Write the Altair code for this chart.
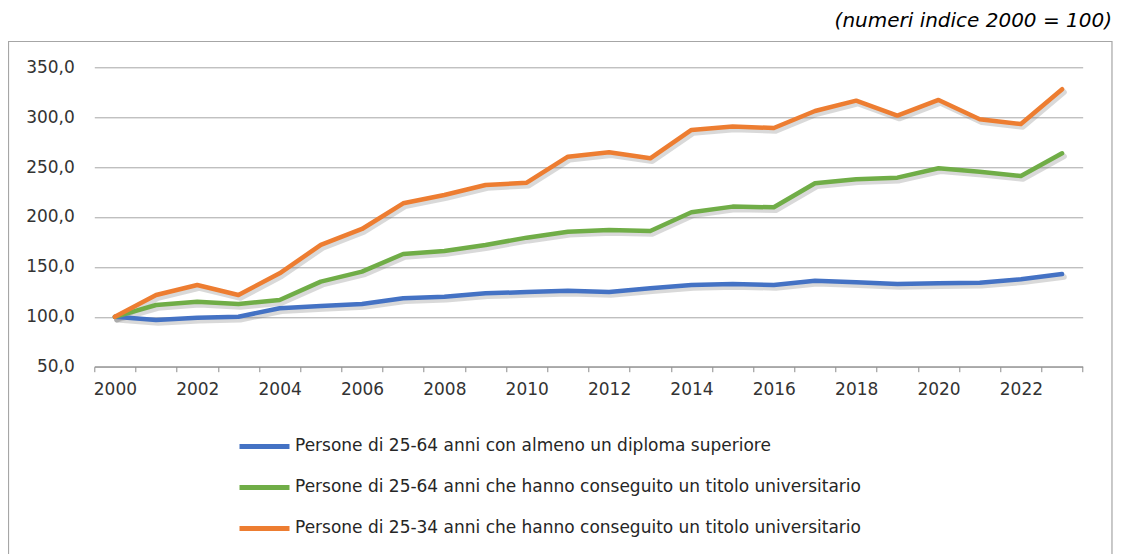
import altair as alt
import pandas as pd

years = list(range(2000, 2024))
blue = [100.0, 96.8, 99.1, 100.1, 108.5, 110.8, 112.8, 118.5, 120.1, 123.5, 124.8, 126.1,
        124.8, 128.5, 131.9, 132.9, 131.9, 136.2, 134.6, 132.9, 133.6, 134.2, 137.6, 142.9]
green = [100.0, 111.8, 115.1, 112.8, 116.8, 135.2, 145.2, 162.9, 165.9, 172.0, 179.3, 185.3,
         187.0, 186.0, 204.7, 210.4, 209.7, 233.8, 237.8, 239.4, 248.8, 245.4, 241.1, 263.8]
orange = [100.0, 121.8, 131.8, 121.8, 143.6, 172.0, 188.0, 213.7, 222.0, 232.0, 234.4, 260.4,
          264.8, 258.8, 287.2, 290.6, 289.2, 306.2, 316.6, 301.6, 317.3, 297.9, 293.2, 328.0]
series_names = [
    "Persone di 25-64 anni con almeno un diploma superiore",
    "Persone di 25-64 anni che hanno conseguito un titolo universitario",
    "Persone di 25-34 anni che hanno conseguito un titolo universitario",
]
colors = ["#4472C4", "#70AD47", "#ED7D31"]
y_ticks = [50, 100, 150, 200, 250, 300, 350]
title_text = "(numeri indice 2000 = 100)"

rows = []
for name, vals in zip(series_names, [blue, green, orange]):
    for yr, v in zip(years, vals):
        rows.append({"anno": yr, "valore": v, "serie": name})
df = pd.DataFrame(rows)

W, H = 988.4, 299.4
PAD_L, PAD_T = 86.3, 59.3
FONT = "DejaVu Sans"
tick_vals = [yr - 0.5 for yr in years] + [years[-1] + 0.5]

x_enc = alt.X(
    "anno:Q",
    scale=alt.Scale(domain=[years[0] - 0.5, years[-1] + 0.5], nice=False, zero=False),
    axis=alt.Axis(
        values=tick_vals,
        labelExpr="((datum.value + 0.5) % 2 == 0 && datum.value < 2023) ? '' + (datum.value + 0.5) : ''",
        labelOffset=W / len(years) / 2,
        labelFlush=False,
        labelOverlap=False,
        labelBound=False,
        grid=False,
        tickSize=5,
        tickColor="#8c8c8c",
        domainColor="#8c8c8c",
        labelFont=FONT,
        labelFontSize=17,
        labelColor="#333333",
        labelPadding=10,
        title=None,
    ),
)
y_enc = alt.Y(
    "valore:Q",
    scale=alt.Scale(domain=[50, 350], nice=False, zero=False),
    axis=alt.Axis(
        values=y_ticks,
        labelExpr="replace(format(datum.value, '.1f'), '.', ',')",
        domain=False,
        ticks=False,
        grid=True,
        gridColor="#a6a6a6",
        gridWidth=1,
        labelFont=FONT,
        labelFontSize=17,
        labelColor="#333333",
        labelPadding=20,
        title=None,
    ),
)

one = pd.DataFrame({"k": [0]})

frame = alt.Chart(one).mark_rect(filled=False, stroke="#a6a6a6", strokeWidth=1.2).encode(
    x=alt.value(-85.8), x2=alt.value(1017.7), y=alt.value(-25.8), y2=alt.value(600)
)

shadow = alt.Chart(df).mark_line(
    color="#808080", opacity=0.3, strokeWidth=5.5, xOffset=2, yOffset=3,
    strokeCap="round", strokeJoin="round"
).encode(x=x_enc, y=y_enc, detail="serie:N")

lines = alt.Chart(df).mark_line(
    strokeWidth=4.5, strokeCap="round", strokeJoin="round"
).encode(
    x=x_enc,
    y=y_enc,
    color=alt.Color(
        "serie:N",
        scale=alt.Scale(domain=series_names, range=colors),
        legend=alt.Legend(
            orient="none",
            legendX=142.7,
            legendY=351.7,
            direction="vertical",
            title=None,
            symbolType="stroke",
            symbolSize=2500,
            symbolStrokeWidth=5,
            labelFont=FONT,
            labelFontSize=17,
            labelColor="#262626",
            labelLimit=1000,
            labelOffset=3,
            rowPadding=3,
            padding=0,
        ),
    ),
)

title = alt.Chart(one).mark_text(
    text=title_text, align="right", baseline="alphabetic",
    font=FONT, fontSize=20, fontStyle="italic", color="#000000"
).encode(x=alt.value(1017.7), y=alt.value(-40.3))

chart = alt.layer(frame, shadow, lines, title).properties(
    width=W,
    height=H,
    autosize=alt.AutoSizeParams(type="none"),
    padding={"left": PAD_L, "top": PAD_T, "right": 30, "bottom": 190},
    background="white",
).configure_view(stroke=None)

chart.save("out.html", embed_options={"renderer": "svg", "actions": False})
